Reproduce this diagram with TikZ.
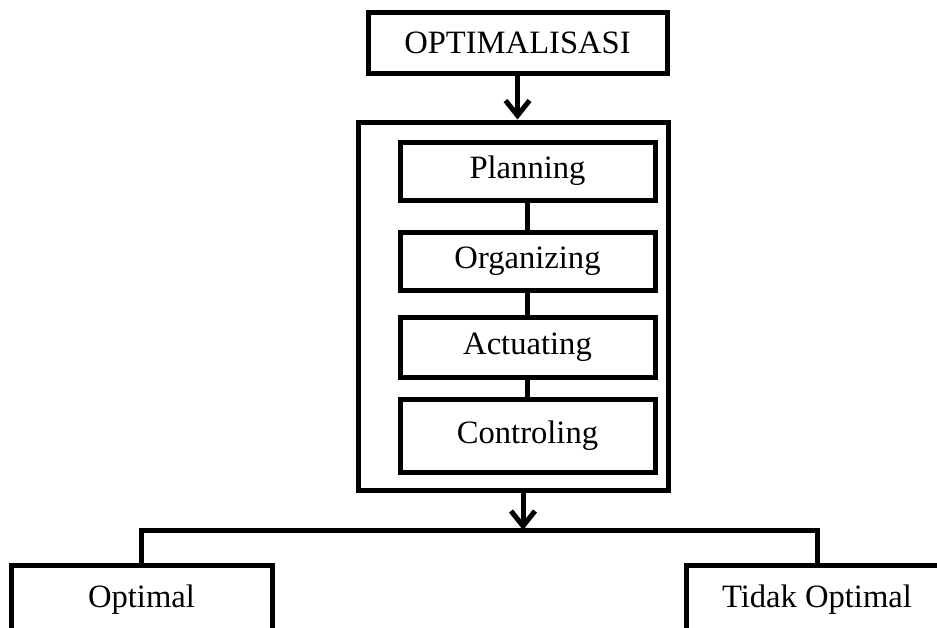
\documentclass[tikz,border=0pt]{standalone}
\usepackage{fontspec}
\setmainfont{Liberation Serif}
\usetikzlibrary{
  calc, % For coordinate calculations
  arrows.meta % For arrow tips
}

\begin{document}
\begin{tikzpicture}[
      x=0.5pt, y=-0.5pt, % Pixel grid
      line width=2.5pt, % Default line thickness
      >={Straight Barb[length=7.5pt,width=12pt]}, % Default arrow tip
      box/.style={draw, rectangle, inner sep=0pt, font=\fontsize{16.3}{19}\selectfont},
      stage/.style={box, minimum width=127.5pt}, % Style for the four stages
      result/.style={box, minimum width=130.5pt, minimum height=35pt},
      flow/.style={->}, % Style for arrows
    ]
    % Rahmen
    \useasboundingbox (0,0) rectangle (937,627);
    \clip (0,0) rectangle (937,627);
    % Knoten
    \node[box, minimum width=149.5pt, minimum height=30.5pt] (opt) at (517.5,42.5) {OPTIMALISASI};
    \node[draw, inner sep=0pt, minimum width=155pt, minimum height=184pt] (frame) at (513,306) {};
    \node[stage, minimum height=29pt] (plan) at (527.5,171) {Planning};
    \node[stage, minimum height=29pt] (org) at (527.5,261) {Organizing};
    \node[stage, minimum height=30pt] (act) at (527.5,347) {Actuating};
    \node[stage, minimum height=36.5pt] (ctrl) at (527.5,435.5) {Controling};
    \node[result] (good) at (141.5,600) {Optimal};
    \node[result] (bad) at (817,600) {Tidak Optimal};
    % Verbindungen
    \draw[flow] (opt.south) -- (opt.south |- frame.north);
    \draw (plan) -- (org);
    \draw (org) -- (act);
    \draw (act) -- (ctrl);
    \coordinate (split) at (523,530);
    \draw[flow] (split |- frame.south) -- (split);
    \draw (good.north) |- (split) -| (bad.north);
  \end{tikzpicture}
\end{document}
